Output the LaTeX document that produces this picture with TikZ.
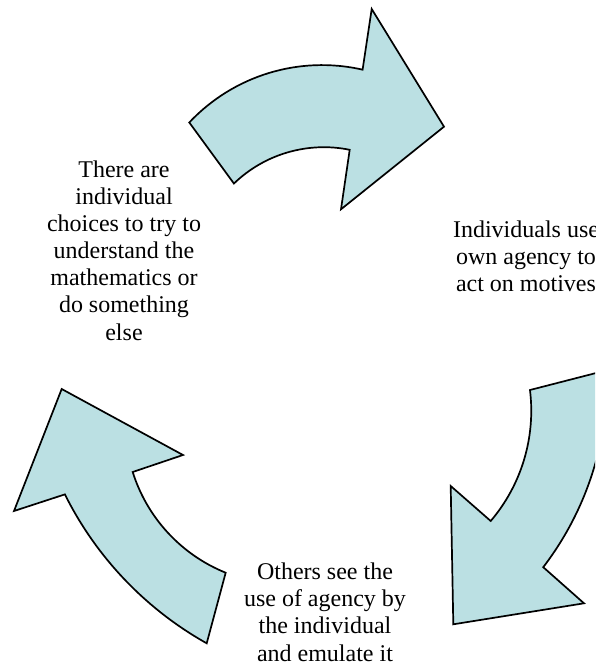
\documentclass[tikz,border=0pt]{standalone}
\usepackage{fontspec}
\setmainfont{Liberation Serif}
\definecolor{arrowfill}{RGB}{187,224,227}
\tikzset{
  arrowshape/.style={draw=black, fill=arrowfill, line width=1.7pt, line join=miter},
  cyclelabel/.style={align=center, inner sep=0pt, anchor=base, font=\fontsize{24}{27.1}\selectfont}
}
\begin{document}
\begin{tikzpicture}[x=1pt,y=-1pt]
\useasboundingbox (0,0) rectangle (595,669);
\clip (0,0) rectangle (595,669);
% top arrow
\draw[arrowshape] (189.3,122.5) arc[start angle=223.2, end angle=282.9, radius=182]
  -- (371.7,9) -- (444,126.7) -- (341,209.3) -- (349.7,149.8)
  arc[start angle=281.5, end angle=226.0, radius=129.5]
  -- cycle;
% right arrow
\draw[arrowshape] (530,390) -- (607,370.2)
  arc[start angle=-1.57, end angle=37.45, radius=310]
  -- (584,603.3) -- (453.3,624.3) -- (450.7,486) -- (490.7,521)
  arc[start angle=40.4, end angle=-7.0, radius=170]
  -- cycle;
% left arrow
\draw[arrowshape] (61.7,389) -- (183,455) -- (132.7,472)
  arc[start angle=162.56, end angle=112.0, radius=160.5]
  -- (206.7,643.3)
  arc[start angle=119.3, end angle=153.5, radius=349.7]
  -- (14,511) -- cycle;
% labels
\node[cyclelabel] (choices) at (124,340) {There are\\individual\\choices to try to\\understand the\\mathematics or\\do something\\else};
\node[cyclelabel] (agency) at (526,291.7) {Individuals use\\own agency to\\act on motives};
\node[cyclelabel] (others) at (325,661) {Others see the\\use of agency by\\the individual\\and emulate it};
\end{tikzpicture}
\end{document}
